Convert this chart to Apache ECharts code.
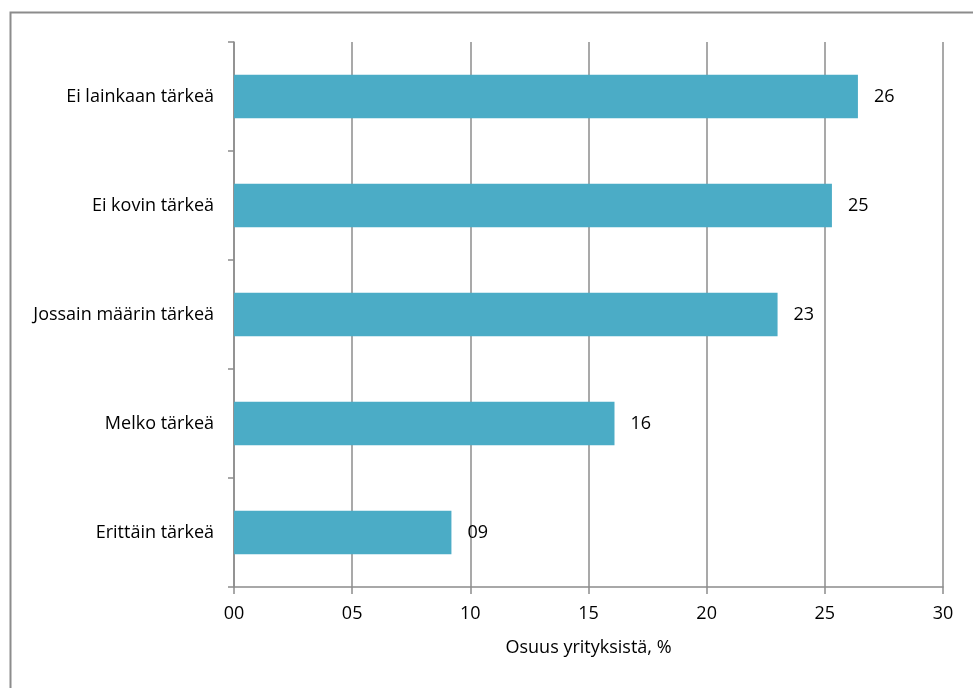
<!DOCTYPE html>
<html lang="fi">
<head>
    <meta charset="UTF-8">
    <title>Osuus yrityksistä</title>
    <style>
        html, body { margin: 0; padding: 0; background: #fff; }
        #main { width: 973px; height: 688px; }
    </style>
</head>
<body>
    <div id="main"></div>
    <script src="https://cdn.jsdelivr.net/npm/echarts@6/dist/echarts.min.js"></script>
    <script>
        // luokat ylhäältä alas
        var categories = ['Ei lainkaan tärkeä', 'Ei kovin tärkeä', 'Jossain määrin tärkeä', 'Melko tärkeä', 'Erittäin tärkeä'];
        var shares = [26.4, 25.3, 23.0, 16.1, 9.2];
        var xTicks = [0, 5, 10, 15, 20, 25, 30];

        function pad2(v) {
            var s = String(Math.round(v));
            return s.length < 2 ? '0' + s : s;
        }

        var fontFam = '"Open Sans", sans-serif';
        var fs = 18;
        var lineCol = '#8c8c8c';

        var myChart = echarts.init(document.getElementById('main'));
        var option = {
            backgroundColor: '#fff',
            animation: false,
            textStyle: { fontFamily: fontFam },
            graphic: [{
                type: 'rect',
                shape: { x: 10.5, y: 12.5, width: 1000, height: 1000 },
                style: { fill: 'none', stroke: '#8c8c8c', lineWidth: 2 }
            }],
            grid: { left: 234, right: 30, top: 42, bottom: 101 },
            xAxis: {
                type: 'value',
                min: xTicks[0],
                max: xTicks[xTicks.length - 1],
                interval: 5,
                name: 'Osuus yrityksistä, %',
                nameLocation: 'middle',
                nameGap: 52,
                nameTextStyle: { fontSize: fs, color: '#000', fontFamily: fontFam },
                axisLine: { show: true, lineStyle: { color: lineCol, width: 1.5 } },
                axisTick: { show: true, length: 7, lineStyle: { color: lineCol, width: 1.5 } },
                axisLabel: {
                    fontSize: fs, color: '#000', margin: 18, fontFamily: fontFam,
                    formatter: function (v) { return pad2(v); }
                },
                splitLine: { show: true, lineStyle: { color: lineCol, width: 1.5 } }
            },
            yAxis: {
                type: 'category',
                data: categories,
                inverse: true,
                axisLine: { show: true, lineStyle: { color: lineCol, width: 1.5 } },
                axisTick: { show: true, length: 6, alignWithLabel: false, lineStyle: { color: lineCol, width: 1.5 } },
                axisLabel: { fontSize: fs, color: '#000', margin: 20, fontFamily: fontFam },
                splitLine: { show: false }
            },
            series: [{
                type: 'bar',
                data: shares,
                barCategoryGap: '60%',
                itemStyle: { color: '#4BACC6' },
                label: {
                    show: true,
                    position: 'right',
                    distance: 16,
                    fontSize: fs,
                    color: '#000',
                    fontFamily: fontFam,
                    formatter: function (p) { return pad2(p.value); }
                }
            }]
        };
        myChart.setOption(option);
    </script>
</body>
</html>
